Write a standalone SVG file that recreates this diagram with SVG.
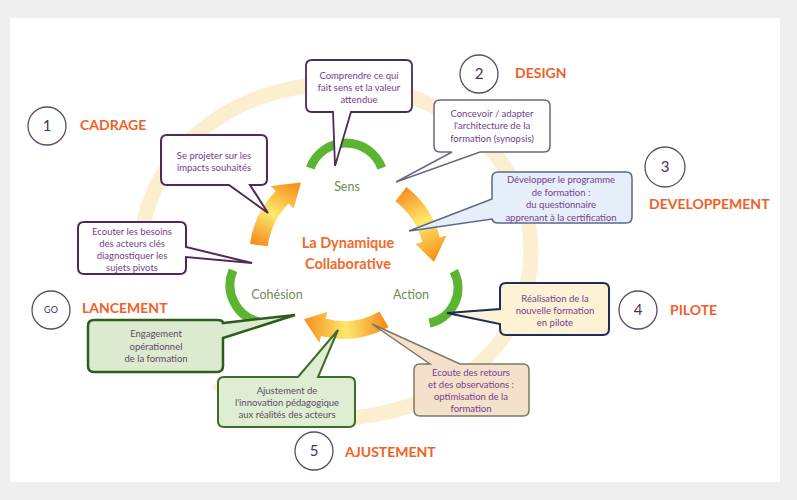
<svg xmlns="http://www.w3.org/2000/svg" width="797" height="500" viewBox="0 0 797 500">
<defs>
<style>
.bt{font-family:Lato,"Open Sans","Liberation Sans",sans-serif;font-size:9.5px;text-anchor:middle;fill:#74408a}
.bt2{font-family:Lato,"Open Sans","Liberation Sans",sans-serif;font-size:9.5px;text-anchor:middle;fill:#5e4a63}
.hd{font-family:Lato,"Liberation Sans",sans-serif;font-size:14px;font-weight:bold;fill:#f15f27}
.num{font-family:Lato,"Liberation Sans",sans-serif;font-size:15px;text-anchor:middle;fill:#4b2f5f}
.ci{fill:#fff;stroke:#5e4a6e;stroke-width:1.3}
.lb{font-family:Lato,"Liberation Sans",sans-serif;font-size:12.5px;text-anchor:middle;fill:#6d8c57}
.ttl{font-family:Lato,"Liberation Sans",sans-serif;font-size:14.5px;font-weight:bold;text-anchor:middle;fill:#f26a2a}
.ga{fill:none;stroke:#5cb531;stroke-width:9}
</style>
<linearGradient id="gL" gradientUnits="userSpaceOnUse" x1="258" y1="246" x2="292" y2="184">
<stop offset="0" stop-color="#f68a1f"/><stop offset="0.5" stop-color="#fde86b"/><stop offset="1" stop-color="#f7931e"/></linearGradient>
<linearGradient id="gR" gradientUnits="userSpaceOnUse" x1="400" y1="190" x2="435" y2="258">
<stop offset="0" stop-color="#f68a1f"/><stop offset="0.5" stop-color="#fde86b"/><stop offset="1" stop-color="#f7931e"/></linearGradient>
<linearGradient id="gB" gradientUnits="userSpaceOnUse" x1="386" y1="322" x2="306" y2="325">
<stop offset="0" stop-color="#f68a1f"/><stop offset="0.5" stop-color="#fde86b"/><stop offset="1" stop-color="#f7931e"/></linearGradient>
</defs>
<rect x="0" y="0" width="797" height="500" fill="#efefef"/>
<rect x="10" y="18" width="770" height="464" fill="#ffffff"/>
<g id="ring">
<path d="M141.3,259.7 A195,167 0 1 1 215.9,382.6" fill="none" stroke="#fcefd0" stroke-width="15"/>
</g>
<g id="connectors">
<path d="M249.9,243.8 A95,95 0 0 1 275.7,191.0 L270.6,186.1 L301.0,182.5 L293.6,208.4 L288.6,203.5 A77,77 0 0 0 267.7,246.3 Z" fill="url(#gL)"/>
<path d="M406.5,187.1 A95,95 0 0 1 439.8,237.4 L446.5,235.6 L434,262 L415.6,243.9 L422.4,242.1 A77,77 0 0 0 395.4,201.3 Z" fill="url(#gR)"/>
<path d="M388.5,327.1 A89,89 0 0 1 321.0,336.0 L319.2,342.7 L304,319.3 L327.4,311.8 L325.6,318.6 A71,71 0 0 0 379.5,311.5 Z" fill="url(#gB)"/>
<path class="ga" d="M310.3,168 A38,38 0 0 1 381.7,168"/>
<path class="ga" d="M233,270.2 A38,38 0 0 0 258.8,321.9"/>
<path class="ga" d="M453.8,271.1 A36,36 0 0 1 429.5,323.2"/>
</g>
<g id="center">
<text class="ttl" x="348" y="248">La Dynamique</text>
<text class="ttl" x="348" y="269">Collaborative</text>
<text class="lb" x="347" y="191">Sens</text>
<text class="lb" x="277" y="299">Cohésion</text>
<text class="lb" x="411" y="299">Action</text>
</g>
<g id="b-comprendre">
<path d="M312,60 H406 Q412,60 412,66 V106 Q412,112 406,112 H351 L335,166 L333,112 H312 Q306,112 306,106 V66 Q306,60 312,60 Z" fill="#fff" stroke="#4d2a5c" stroke-width="1.8"/>
<text class="bt" x="359" y="78.5">Comprendre ce qui</text>
<text class="bt" x="359" y="90.5">fait sens et la valeur</text>
<text class="bt" x="359" y="102.5">attendue</text>
</g>
<g id="b-projeter">
<path d="M167,135 H261 Q267,135 267,141 V179 Q267,185 261,185 H250 L268,213 L229,185 H167 Q161,185 161,179 V141 Q161,135 167,135 Z" fill="#fff" stroke="#55275f" stroke-width="2"/>
<text class="bt" x="214" y="158.5">Se projeter sur les</text>
<text class="bt" x="214" y="170.5">impacts souhaités</text>
</g>
<g id="b-ecouter">
<path d="M84,222 H180 Q186,222 186,228 V247 L252,263 L186,257 V268 Q186,274 180,274 H84 Q78,274 78,268 V228 Q78,222 84,222 Z" fill="#fff" stroke="#55275f" stroke-width="2"/>
<text class="bt" x="132" y="234.5">Ecouter les besoins</text>
<text class="bt" x="132" y="246.5">des acteurs clés</text>
<text class="bt" x="132" y="259">diagnostiquer les</text>
<text class="bt" x="132" y="271">sujets pivots</text>
</g>
<g id="b-concevoir">
<path d="M440,100 H544 Q550,100 550,106 V146 Q550,152 544,152 H480 L396,182 L452,152 H440 Q434,152 434,146 V106 Q434,100 440,100 Z" fill="#fff" stroke="#6c6680" stroke-width="1.5"/>
<text class="bt" x="492" y="116.5">Concevoir / adapter</text>
<text class="bt" x="492" y="129">l'architecture de la</text>
<text class="bt" x="492" y="141.5">formation (synopsis)</text>
</g>
<g id="b-developper">
<path d="M498,172 H626 Q632,172 632,178 V217 Q632,223 626,223 H498 Q493,223 492,219 L409,231 L492,199 V178 Q492,172 498,172 Z" fill="#e6eefa" stroke="#5b6788" stroke-width="1.5"/>
<text class="bt" x="561" y="183">Développer le programme</text>
<text class="bt" x="561" y="196">de formation :</text>
<text class="bt" x="561" y="208">du questionnaire</text>
<text class="bt" x="561" y="221">apprenant à la certification</text>
</g>
<g id="b-realisation">
<path d="M506,283 H603 Q609,283 609,289 V329 Q609,335 603,335 H506 Q500,335 500,329 V324 L447,313 L500,309 V289 Q500,283 506,283 Z" fill="#fdf2d4" stroke="#1f2b5a" stroke-width="2"/>
<text class="bt" x="555" y="301.5">Réalisation de la</text>
<text class="bt" x="555" y="313.5">nouvelle formation</text>
<text class="bt" x="555" y="326">en pilote</text>
</g>
<g id="b-ecoute">
<path d="M420,364 H430 L372,324 L460,364 H523 Q529,364 529,370 V410 Q529,416 523,416 H420 Q414,416 414,410 V370 Q414,364 420,364 Z" fill="#f4e0cb" stroke="#7b7860" stroke-width="1.5"/>
<text class="bt" x="471" y="375.5">Ecoute des retours</text>
<text class="bt" x="471" y="387.5">et des observations :</text>
<text class="bt" x="471" y="400">optimisation de la</text>
<text class="bt" x="471" y="412">formation</text>
</g>
<g id="b-engagement">
<path d="M94,320 H217 Q223,320 223,323 L295,315 L223,338 V366 Q223,372 217,372 H94 Q88,372 88,366 V326 Q88,320 94,320 Z" fill="#dcebcf" stroke="#2f5b1d" stroke-width="2.5"/>
<text class="bt2" x="156" y="336.5">Engagement</text>
<text class="bt2" x="156" y="349.5">opérationnel</text>
<text class="bt2" x="156" y="361.5">de la formation</text>
</g>
<g id="b-ajustement">
<path d="M224,377 H298 L338,330 L318,377 H349 Q355,377 355,383 V421 Q355,427 349,427 H224 Q218,427 218,421 V383 Q218,377 224,377 Z" fill="#ddeed2" stroke="#3f6c2b" stroke-width="2"/>
<text class="bt2" x="287" y="393.5">Ajustement de</text>
<text class="bt2" x="287" y="405.5">l'innovation pédagogique</text>
<text class="bt2" x="287" y="417.5">aux réalités des acteurs</text>
</g>
<g id="p-cadrage">
<circle class="ci" cx="47" cy="126" r="19"/>
<text class="num" x="47" y="131">1</text>
<text class="hd" x="80" y="130">CADRAGE</text>
</g>
<g id="p-design">
<circle class="ci" cx="479" cy="74" r="19"/>
<text class="num" x="479" y="79">2</text>
<text class="hd" x="515" y="78">DESIGN</text>
</g>
<g id="p-developpement">
<circle class="ci" cx="665" cy="167" r="20"/>
<text class="num" x="665" y="172">3</text>
<text class="hd" x="649" y="209">DEVELOPPEMENT</text>
</g>
<g id="p-pilote">
<circle class="ci" cx="638" cy="310" r="19"/>
<text class="num" x="638" y="315">4</text>
<text class="hd" x="670" y="315">PILOTE</text>
</g>
<g id="p-ajustement">
<circle class="ci" cx="314" cy="451" r="19"/>
<text class="num" x="314" y="456">5</text>
<text class="hd" x="345" y="457">AJUSTEMENT</text>
</g>
<g id="p-lancement">
<circle class="ci" cx="51" cy="310" r="19"/>
<text class="num" x="51" y="313" style="font-size:9px">GO</text>
<text class="hd" x="82" y="313">LANCEMENT</text>
</g>
</svg>
